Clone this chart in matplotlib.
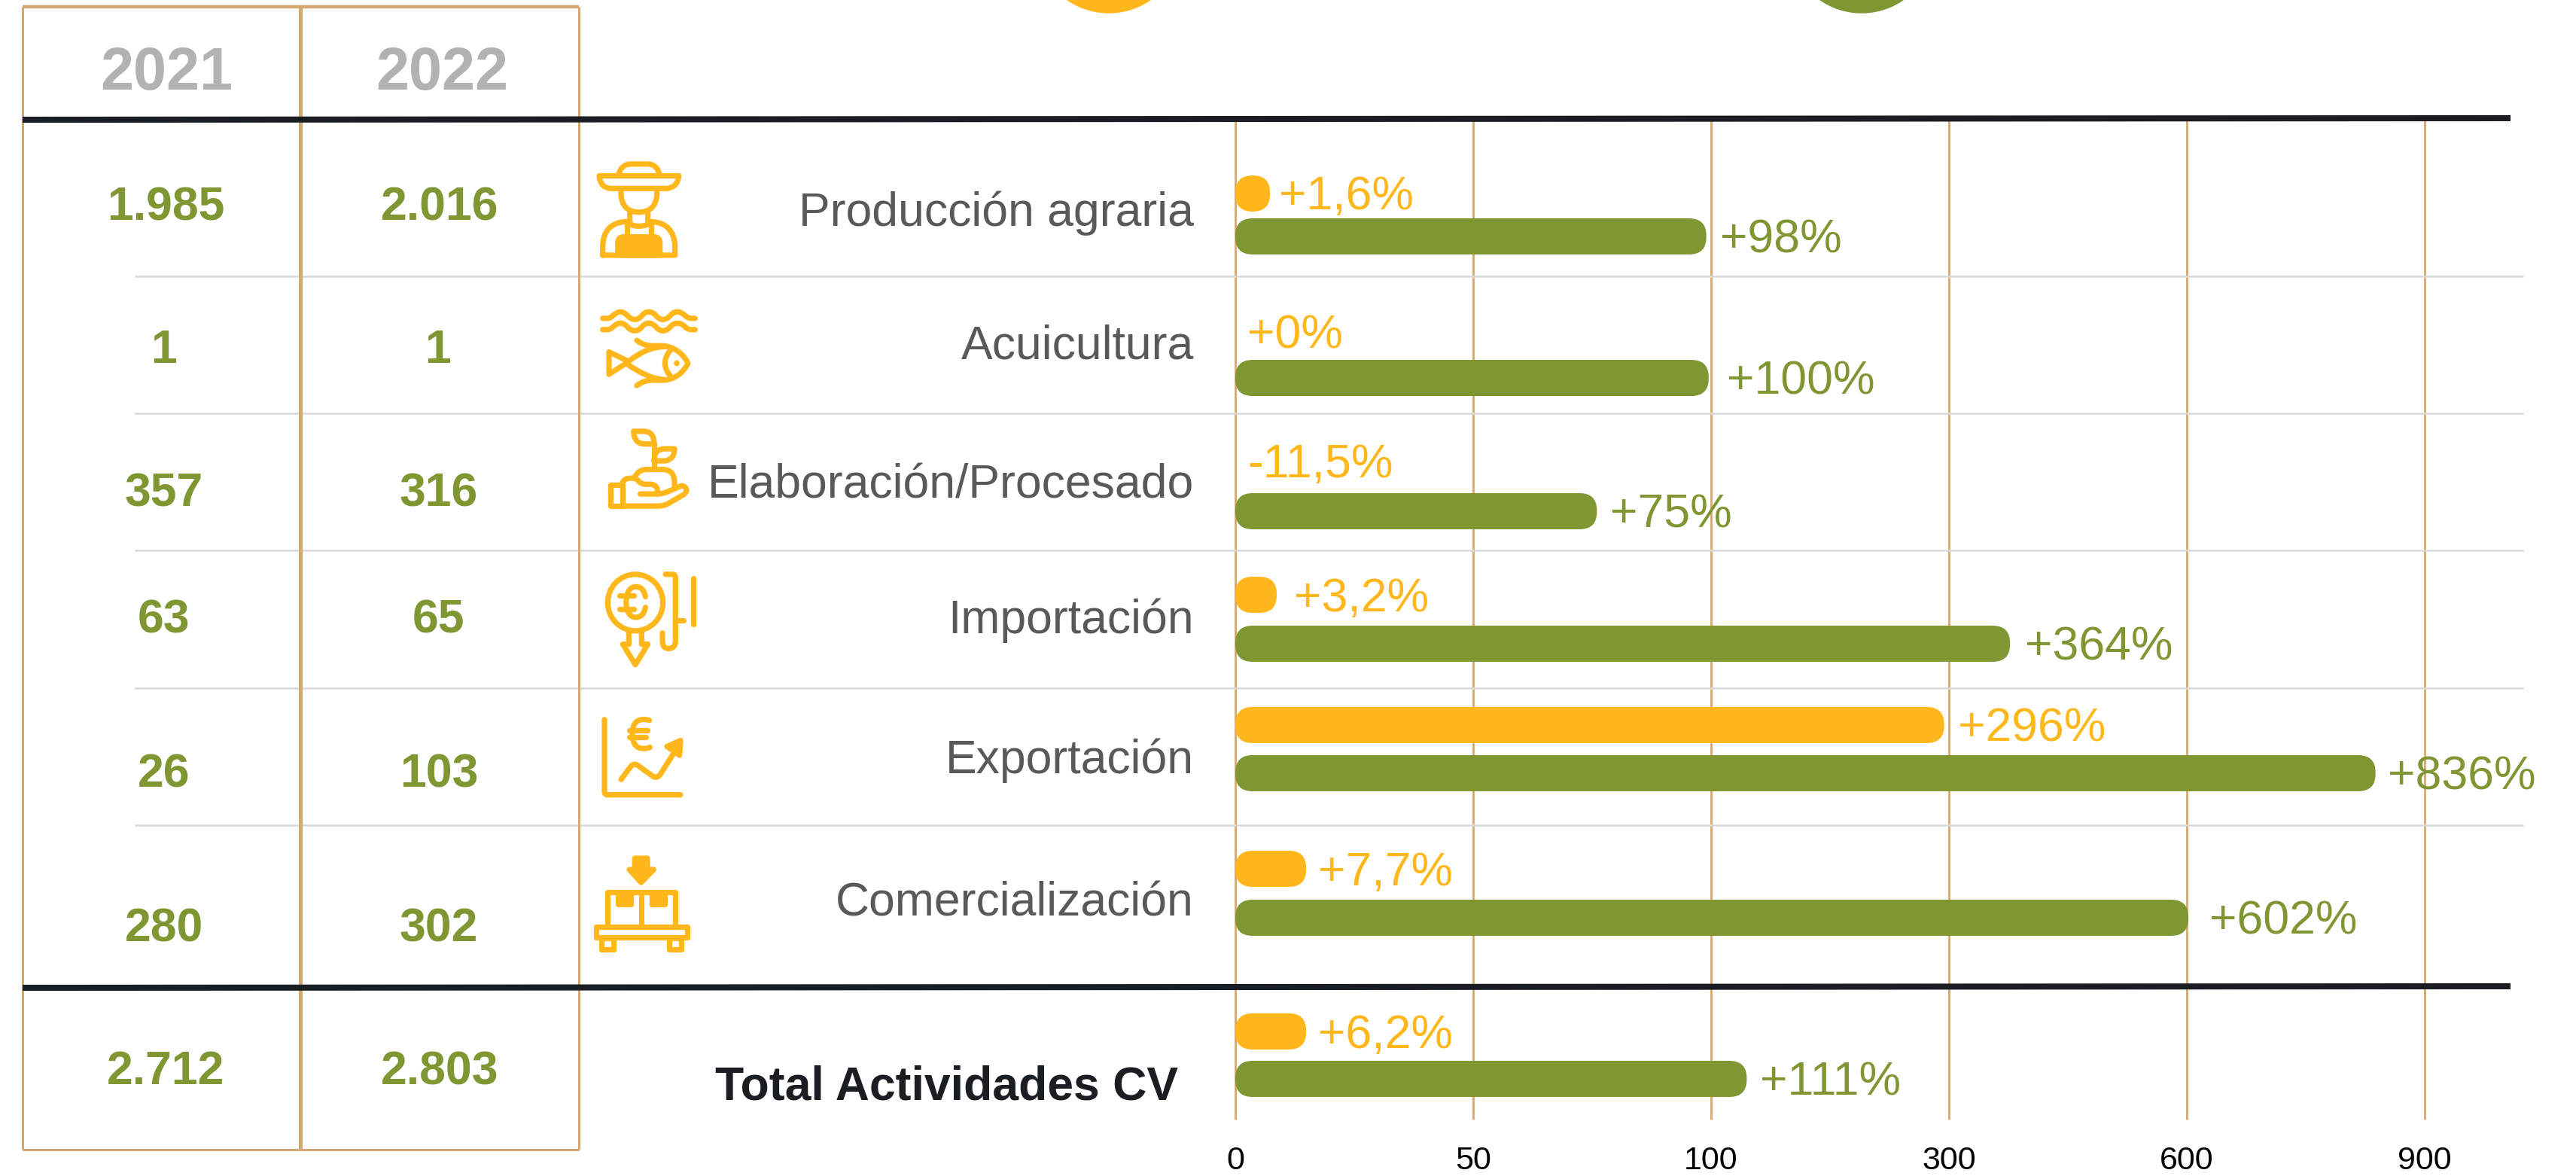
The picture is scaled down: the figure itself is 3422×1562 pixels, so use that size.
import numpy as np
import matplotlib
matplotlib.use('Agg')
import matplotlib.pyplot as plt
from matplotlib.path import Path
from matplotlib.patches import PathPatch, FancyBboxPatch, Ellipse, Circle

plt.rcParams['font.family'] = ['Liberation Sans', 'DejaVu Sans']

categorias = ['Producción agraria', 'Acuicultura', 'Elaboración/Procesado',
              'Importación', 'Exportación', 'Comercialización', 'Total Actividades CV']
valores_2021 = ['1.985', '1', '357', '63', '26', '280', '2.712']
valores_2022 = ['2.016', '1', '316', '65', '103', '302', '2.803']

# largo de las barras, en la escala del eje
barra_naranja = [7.3, 0, 0, 8.7, 296, 14.9, 14.9]
barra_verde = [99, 99.5, 76, 377, 838, 602, 130]
etiqueta_naranja = ['+1,6%', '+0%', '-11,5%', '+3,2%', '+296%', '+7,7%', '+6,2%']
etiqueta_verde = ['+98%', '+100%', '+75%', '+364%', '+836%', '+602%', '+111%']
ticks = [0, 50, 100, 300, 600, 900]

# posiciones verticales en pixeles
y_naranja = [257, 441, 613, 790, 963, 1154, 1370]
y_verde = [314, 502, 679, 855, 1027, 1219, 1433]
y_categoria = [277, 454, 639, 818, 1004, 1194, 1438]
y_tabla = [270, 459, 650, 818, 1023, 1228, 1418]
x_2021 = [220, 218, 218, 218, 218, 218, 220]
x_2022 = [584, 582, 583, 583, 583, 583, 584]
y_separador = [367, 549, 731, 914, 1096]
# separacion entre barra y etiqueta
gap_naranja = [12, 16, 16, 23, 18, 16, 16]
gap_verde = [18, 24, 18, 20, 16, 28, 18]
DY = 6

NARANJA = '#FFB71B'
VERDE = '#7F9632'
NEGRO = '#1A1D21'
GRIS = '#58595B'
TAN = '#D4A971'

W, H = 3422, 1562
fig = plt.figure(figsize=(W / 100, H / 100), dpi=100, facecolor='white')

# eje de las barras, con tramos iguales para 0-50-100-300-600-900
def adelante(v):
    return np.interp(v, ticks, np.arange(len(ticks)))

def atras(v):
    return np.interp(v, np.arange(len(ticks)), ticks)

axb = fig.add_axes([1641 / W, (H - 1487) / H, (3221 - 1641) / W, 1487 / H], zorder=1)
axb.set_xscale('function', functions=(adelante, atras))
axb.set_xlim(0, 900)
axb.set_ylim(1487, 0)
axb.vlines(ticks, 160, 1487, color=TAN, lw=2, clip_on=False)
axb.set_xticks(ticks)
axb.set_xticklabels([str(t) for t in ticks], fontsize=31, color='black')
axb.minorticks_off()
axb.tick_params(axis='x', length=0, pad=25)
axb.set_yticks([])
for s in axb.spines.values():
    s.set_visible(False)

# capa en pixeles para tabla, textos, iconos y barras
ax = fig.add_axes([0, 0, 1, 1], zorder=2)
ax.set_xlim(0, W)
ax.set_ylim(H, 0)
ax.axis('off')
ax.patch.set_alpha(0)

def a_pixel(v):
    return axb.transData.transform((v, 0))[0]

# circulos de la leyenda, cortados por el borde
ax.add_patch(Circle((1473, -80), 97, color=NARANJA))
ax.add_patch(Circle((2473, -80), 97, color=VERDE))

# marco de la tabla
for x, ancho in [(30, 3), (399, 5), (769, 3)]:
    ax.plot([x, x], [9, 1527], color=TAN, lw=ancho * 0.72, solid_capstyle='butt')
ax.plot([30, 769], [9, 9], color=TAN, lw=3.2, solid_capstyle='butt')
ax.plot([30, 769], [1527, 1527], color=TAN, lw=2.2, solid_capstyle='butt')

for y in y_separador:
    ax.plot([180, 3351], [y, y], color='#D9D9D9', lw=1.8, zorder=0.5)
ax.plot([30, 3335], [159, 157], color=NEGRO, lw=5.8, solid_capstyle='butt')
ax.plot([30, 3335], [1312, 1310], color=NEGRO, lw=5.8, solid_capstyle='butt')

ax.text(221, 99, '2021', fontsize=57, fontweight='bold', color='#B2B2B2', ha='center', va='center')
ax.text(587, 99, '2022', fontsize=57, fontweight='bold', color='#B2B2B2', ha='center', va='center')

for i, cat in enumerate(categorias):
    ax.text(x_2021[i], y_tabla[i] + DY, valores_2021[i], fontsize=45, fontweight='bold',
            color=VERDE, ha='center', va='center')
    ax.text(x_2022[i], y_tabla[i] + DY, valores_2022[i], fontsize=45, fontweight='bold',
            color=VERDE, ha='center', va='center')
    if i < 6:
        ax.text(1586, y_categoria[i] + DY, cat, fontsize=45, color=GRIS, ha='right', va='center')
    else:
        ax.text(1565, y_categoria[i] + DY, cat, fontsize=45, fontweight='bold', color=NEGRO,
                ha='right', va='center')

def barra(valor, y, color):
    x0, x1 = a_pixel(0), a_pixel(valor)
    alto = 48
    radio = 23
    ax.add_patch(FancyBboxPatch((x0 + radio, y - alto / 2 + radio), x1 - x0 - 2 * radio,
                                alto - 2 * radio,
                                boxstyle=f'round,pad={radio},rounding_size={radio}',
                                fc=color, ec='none', mutation_aspect=1))

for i in range(len(categorias)):
    if barra_naranja[i] > 0:
        barra(barra_naranja[i], y_naranja[i], NARANJA)
    barra(barra_verde[i], y_verde[i], VERDE)
    ax.text(a_pixel(barra_naranja[i]) + gap_naranja[i], y_naranja[i] + DY - 1, etiqueta_naranja[i],
            fontsize=45, color=NARANJA, ha='left', va='center')
    ax.text(a_pixel(barra_verde[i]) + gap_verde[i], y_verde[i] + DY - 1, etiqueta_verde[i],
            fontsize=45, color=VERDE, ha='left', va='center')

# iconos: trazos tipo svg sobre un recorte 3x de la imagen
CODIGOS = {'M': (Path.MOVETO, 1), 'L': (Path.LINETO, 1), 'Q': (Path.CURVE3, 2), 'C': (Path.CURVE4, 3)}

def trazo(d, ox, oy, relleno=False):
    t = d.split()
    verts, codes = [], []
    i = 0
    while i < len(t):
        c = t[i]
        i += 1
        if c == 'Z':
            verts.append(verts[-1])
            codes.append(Path.CLOSEPOLY)
            continue
        code, n = CODIGOS[c]
        for _ in range(n):
            verts.append((ox + float(t[i]) / 3, oy + float(t[i + 1]) / 2.8))
            codes.append(code)
            i += 2
    ax.add_patch(PathPatch(Path(verts, codes), fc=NARANJA if relleno else 'none', ec=NARANJA,
                           lw=5.2, capstyle='round', joinstyle='round'))

def punto(x, y, ox, oy, rx, ry, relleno=True):
    ax.add_patch(Ellipse((ox + x / 3, oy + y / 2.8), 2 * rx / 3, 2 * ry / 2.8,
                         fc=NARANJA if relleno else 'none', ec=NARANJA if not relleno else 'none', lw=5.2))

# agricultor
OX, OY = 760, 180
trazo('M 183 150 Q 195 106 235 106 L 300 106 Q 340 106 350 150', OX, OY)
trazo('M 108 150 L 425 150 Q 420 197 370 197 L 160 197 Q 112 197 108 150 Z', OX, OY)
trazo('M 195 200 L 195 220 Q 200 285 267 285 Q 333 285 338 220 L 338 200', OX, OY)
trazo('M 230 285 L 230 330 Q 267 345 302 330 L 302 285', OX, OY)
trazo('M 122 445 L 122 410 Q 125 325 215 320 M 315 320 Q 405 325 410 410 L 410 445 L 122 445', OX, OY)
trazo('M 218 330 L 218 375 M 315 330 L 315 375', OX, OY)
trazo('M 182 445 L 182 400 Q 182 377 205 377 L 328 377 Q 350 377 350 400 L 350 445 Z', OX, OY, True)

# pez y olas
for dy in [0, 42]:
    trazo(f'M 122 {680 + dy} L 140 {680 + dy} C 160 {680 + dy} 170 {656 + dy} 192 {656 + dy} '
          f'C 220 {656 + dy} 222 {684 + dy} 250 {684 + dy} C 278 {684 + dy} 278 {656 + dy} 305 {656 + dy} '
          f'C 335 {656 + dy} 335 {684 + dy} 362 {684 + dy} C 390 {684 + dy} 392 {656 + dy} 418 {656 + dy} '
          f'C 448 {656 + dy} 450 {680 + dy} 475 {680 + dy} L 490 {680 + dy}', OX, OY)
trazo('M 225 840 L 147 805 L 147 888 L 215 847 Q 300 905 370 908', OX, OY)
trazo('M 225 840 Q 300 785 370 785', OX, OY)
trazo('M 258 762 Q 285 782 320 782 L 365 782 Q 430 790 462 847 Q 430 905 365 910 L 320 910 Q 285 910 258 930', OX, OY)
trazo('M 395 795 Q 345 847 395 898', OX, OY)
punto(417, 847, OX, OY, 11, 11)

# planta en la mano
trazo('M 327 1150 L 327 1240', OX, OY)
trazo('M 327 1147 L 290 1147 Q 247 1147 245 1100 L 285 1100 Q 327 1100 327 1147', OX, OY)
trazo('M 327 1210 L 370 1210 Q 408 1205 408 1165 L 370 1165 Q 327 1165 327 1210', OX, OY)
trazo('M 250 1270 Q 265 1242 295 1242 L 365 1242 Q 408 1245 408 1290 L 408 1310', OX, OY)
trazo('M 152 1300 L 200 1300 L 200 1378 L 152 1378 Z', OX, OY)
trazo('M 200 1378 L 340 1378 Q 370 1378 390 1365 L 445 1335 Q 465 1320 450 1308 Q 440 1298 425 1307 '
      'L 380 1325 Q 360 1333 340 1333 L 272 1333', OX, OY)
trazo('M 340 1333 Q 345 1300 315 1297 L 290 1297 Q 275 1297 262 1282 Q 250 1272 225 1275 Q 200 1278 200 1300', OX, OY)

# importacion
OY = 730
punto(252, 197, OX, OY, 110, 105, False)
trazo('M 292 175 Q 285 138 255 138 Q 218 138 215 195 Q 218 252 255 252 Q 285 252 292 215', OX, OY)
trazo('M 190 172 L 245 172 M 190 220 L 245 220', OX, OY)
trazo('M 226 300 L 226 352 L 202 352 L 252 428 L 302 352 L 277 352 L 277 300', OX, OY)
trazo('M 372 92 L 400 92 Q 412 92 412 105 L 412 340 Q 412 368 385 368 Q 360 368 360 340 L 360 310', OX, OY)
trazo('M 425 262 L 445 262', OX, OY)
trazo('M 484 105 L 484 278', OX, OY)

# exportacion
trazo('M 129 632 L 129 900 Q 129 912 142 912 L 432 912', OX, OY)
trazo('M 308 635 Q 290 630 280 632 Q 240 635 240 685 Q 240 740 285 740 Q 300 740 310 735', OX, OY)
trazo('M 228 672 L 300 672 M 228 697 L 295 697', OX, OY)
trazo('M 195 855 L 235 805 Q 250 792 265 805 L 322 843 Q 338 852 350 838 L 410 750', OX, OY)
trazo('M 378 732 L 432 710 L 428 765 Z', OX, OY, True)

# comercializacion
trazo('M 250 1148 L 300 1148 L 300 1190 L 325 1190 L 275 1238 L 228 1190 L 250 1190 Z', OX, OY, True)
trazo('M 140 1400 L 140 1275 L 412 1275 L 412 1400 M 276 1275 L 276 1400', OX, OY)
trazo('M 183 1285 L 233 1285 L 233 1320 L 183 1320 Z', OX, OY, True)
trazo('M 318 1285 L 368 1285 L 368 1320 L 318 1320 Z', OX, OY, True)
trazo('M 95 1402 L 458 1402 L 458 1443 L 95 1443 Z', OX, OY)
trazo('M 118 1445 L 165 1445 L 165 1487 L 118 1487 Z', OX, OY)
trazo('M 388 1445 L 435 1445 L 435 1487 L 388 1487 Z', OX, OY)

fig.savefig('out.png', dpi=100)
